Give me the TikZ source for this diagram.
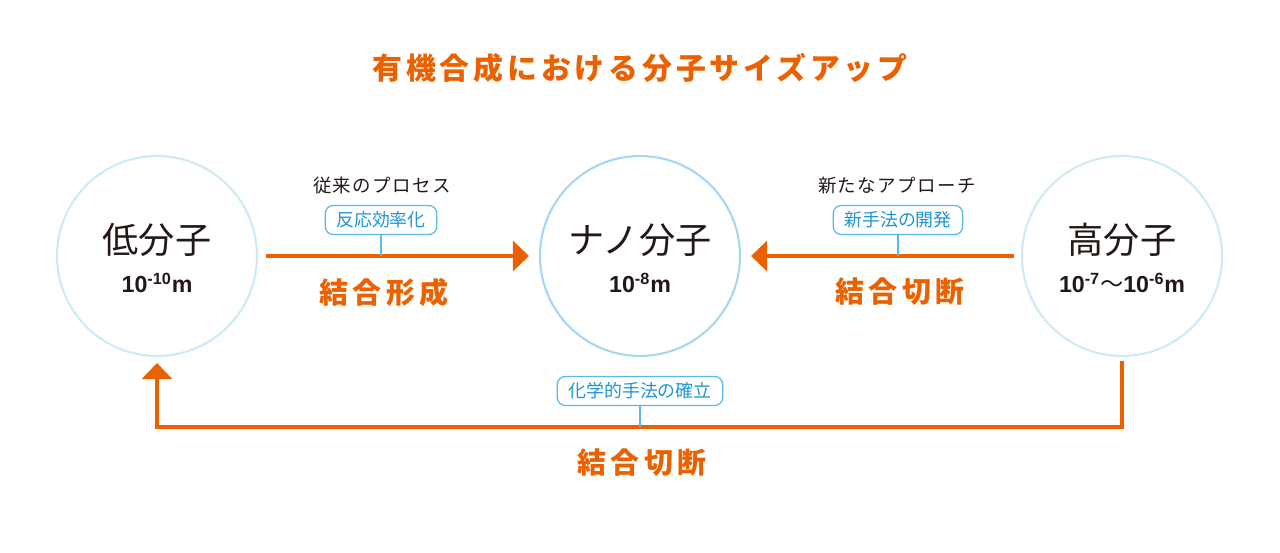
\documentclass[tikz,border=0pt]{standalone}
\usepackage{fontspec}
\setmainfont{Liberation Sans}
\newfontfamily\cjk{Noto Sans CJK JP}
\newfontfamily\cjkwide[LetterSpace=15]{Noto Sans CJK JP}
\newfontfamily\cjktitle[LetterSpace=13]{Noto Sans CJK JP}
\newfontfamily\cjkthin[LetterSpace=8]{Noto Sans CJK JP}
\usetikzlibrary{arrows.meta}
\definecolor{orng}{HTML}{EB6100}
\definecolor{skyline}{HTML}{CFE9F7}
\definecolor{skymid}{HTML}{A6D6F1}
\definecolor{boxblue}{HTML}{5BB8E8}
\definecolor{txtblue}{HTML}{1E94D4}
\definecolor{ink}{HTML}{231815}
\begin{document}
\begin{tikzpicture}[x=0.02cm,y=-0.02cm,
	mol/.style={circle,draw=skyline,line width=1.2pt,minimum size=4cm,inner sep=0pt},
	molname/.style={text=ink,font=\cjk\fontsize{20.6}{22}\selectfont},
	size/.style={text=ink,font=\bfseries\fontsize{13.2}{15}\selectfont},
	note/.style={text=ink,font=\cjkthin\fontsize{10.5}{12}\selectfont},
	tag/.style={draw=boxblue,line width=0.7pt,rounded corners=0.16cm,text=txtblue,
		font=\cjk\fontsize{10.2}{12}\selectfont,inner xsep=0.22cm,inner ysep=0pt,minimum height=0.58cm},
	bond/.style={text=orng,font=\cjkwide\bfseries\fontsize{16.5}{18}\selectfont},
	flow/.style={draw=orng,line width=1.8pt,arrows=-{Triangle[length=0.32cm,width=0.6cm]}},
	stem/.style={draw=boxblue,line width=0.6pt}]
	\useasboundingbox (0,0) rectangle (1280,553);
	% Title
	\node [text=orng,font=\cjktitle\bfseries\fontsize{17}{19}\selectfont] (title) at (640,68) {有機合成における分子サイズアップ};
	% Molecules
	\node [mol] (low) at (157,256) {};
	\node [mol,draw=skymid] (nano) at (640,256) {};
	\node [mol] (high) at (1122,256) {};
		\node [molname] (lowname) at (157,240) {低分子};
		\node [size] (lowsize) at (157,283) {10\textsuperscript{-10}m};
		\node [molname] (nanoname) at (640,240) {ナノ分子};
		\node [size] (nanosize) at (640,283) {10\textsuperscript{-8}m};
		\node [molname] (highname) at (1122,240) {高分子};
		\node [size] (highsize) at (1122,283) {10\textsuperscript{-7}{\cjk\mdseries 〜}10\textsuperscript{-6}m};
	% Left route
	\node [note] (oldway) at (382,186) {従来のプロセス};
	\node [tag] (yield) at (381,220) {反応効率化};
	\node [bond] (form) at (384,292) {結合形成};
		\draw [flow,shorten <=0.16cm,shorten >=0.2cm] (low.east) -- (nano.west);
		\draw [stem] (yield.south) -- (yield.south |- low.east);
	% Right route
	\node [note] (newway) at (897,186) {新たなアプローチ};
	\node [tag] (method) at (898,220) {新手法の開発};
	\node [bond] (cut) at (900,292) {結合切断};
		\draw [flow,shorten <=0.14cm,shorten >=0.2cm] (high.west) -- (nano.east);
		\draw [stem] (method.south) -- (method.south |- high.west);
	% Bottom route
	\coordinate (base) at (640,427);
	\node [tag] (chem) at (640,391) {化学的手法の確立};
	\node [bond] (cut2) at (642,463) {結合切断};
		\draw [flow,shorten <=0.08cm,shorten >=0.12cm] (high.south) -- (high.south |- base) -| (low.south);
		\draw [stem] (chem.south) -- (base);
\end{tikzpicture}
\end{document}
